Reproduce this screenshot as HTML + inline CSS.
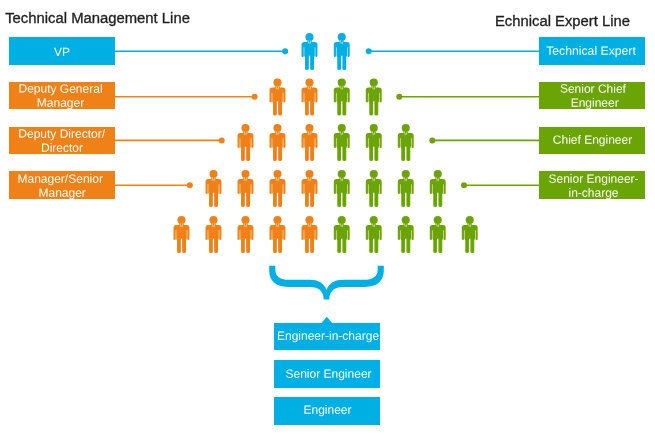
<!DOCTYPE html>
<html><head><meta charset="utf-8"><title>Career Lines</title>
<style>
html,body{margin:0;padding:0;background:#fff}
body{width:655px;height:435px;position:relative;overflow:hidden;will-change:transform;font-family:"Liberation Sans",sans-serif}
.t{position:absolute;-webkit-text-stroke:0.3px #222;transform-origin:0 0;font-size:14px;color:#1c1c1c;white-space:nowrap;line-height:16px}
.b{position:absolute;color:#fff;font-size:12px;line-height:14px;text-align:center;display:flex;align-items:center;justify-content:center;white-space:nowrap}
.b span{position:relative;display:block}
svg{position:absolute;left:0;top:0}
</style></head><body>
<div class="t" style="left:0;top:0;transform:translate(5.2px,10.2px) scaleX(1.0594)">Technical Management Line</div>
<div class="t" style="left:0;top:0;transform:translate(495px,13.3px) scaleX(1.057)">Echnical Expert Line</div>
<svg width="655" height="435" viewBox="0 0 655 435">
<defs><g id="p"><circle cx="0" cy="-14.45" r="4.05"/><rect x="-2.3" y="-11.5" width="4.6" height="3"/><path d="M-7.95 -6.8999999999999995 q0 -2.7 2.7 -2.7 H5.25 q2.7 0 2.7 2.7 V4.5249999999999995 q0 1.075 -1.075 1.075 q-1.075 0 -1.075 -1.075 V-4.3 H5.250000000000001 V4.2 L4.5 5.800000000000001 V17.0 q0 1.6 -1.925 1.6 q-1.925 0 -1.925 -1.6 V4.3 H-0.65 V17.0 q0 1.6 -1.925 1.6 q-1.925 0 -1.925 -1.6 V5.800000000000001 L-5.250000000000001 4.2 V-4.3 H-5.800000000000001 V4.5249999999999995 q0 1.075 -1.075 1.075 q-1.075 0 -1.075 -1.075 Z"/><path d="M-1.45 -11.2 L-0.5 -7.6 M1.45 -11.2 L0.5 -7.6" stroke="#fff" stroke-width="0.7" fill="none" stroke-opacity="0.8"/></g></defs>
<use href="#p" x="309.5" y="51.5" fill="#00b0e4"/>
<use href="#p" x="341.75" y="51.5" fill="#00b0e4"/>
<use href="#p" x="277.5" y="97" fill="#f08116"/>
<use href="#p" x="309.5" y="97" fill="#f08116"/>
<use href="#p" x="341.75" y="97" fill="#6aa505"/>
<use href="#p" x="373.75" y="97" fill="#6aa505"/>
<use href="#p" x="245.5" y="142.5" fill="#f08116"/>
<use href="#p" x="277.5" y="142.5" fill="#f08116"/>
<use href="#p" x="309.5" y="142.5" fill="#f08116"/>
<use href="#p" x="341.75" y="142.5" fill="#6aa505"/>
<use href="#p" x="373.75" y="142.5" fill="#6aa505"/>
<use href="#p" x="405.75" y="142.5" fill="#6aa505"/>
<use href="#p" x="213.5" y="188.5" fill="#f08116"/>
<use href="#p" x="245.5" y="188.5" fill="#f08116"/>
<use href="#p" x="277.5" y="188.5" fill="#f08116"/>
<use href="#p" x="309.5" y="188.5" fill="#f08116"/>
<use href="#p" x="341.75" y="188.5" fill="#6aa505"/>
<use href="#p" x="373.75" y="188.5" fill="#6aa505"/>
<use href="#p" x="405.75" y="188.5" fill="#6aa505"/>
<use href="#p" x="437.75" y="188.5" fill="#6aa505"/>
<use href="#p" x="181.5" y="234.5" fill="#f08116"/>
<use href="#p" x="213.5" y="234.5" fill="#f08116"/>
<use href="#p" x="245.5" y="234.5" fill="#f08116"/>
<use href="#p" x="277.5" y="234.5" fill="#f08116"/>
<use href="#p" x="309.5" y="234.5" fill="#f08116"/>
<use href="#p" x="341.75" y="234.5" fill="#6aa505"/>
<use href="#p" x="373.75" y="234.5" fill="#6aa505"/>
<use href="#p" x="405.75" y="234.5" fill="#6aa505"/>
<use href="#p" x="437.75" y="234.5" fill="#6aa505"/>
<use href="#p" x="469.75" y="234.5" fill="#6aa505"/>
<line x1="115" y1="51.2" x2="285.1" y2="51.2" stroke="#00b0e4" stroke-width="1.6"/>
<circle cx="285.1" cy="51.2" r="3" fill="#00b0e4"/>
<line x1="115" y1="96.8" x2="254.6" y2="96.8" stroke="#f08116" stroke-width="1.6"/>
<circle cx="254.6" cy="96.8" r="3" fill="#f08116"/>
<line x1="115" y1="140.4" x2="221.7" y2="140.4" stroke="#f08116" stroke-width="1.6"/>
<circle cx="221.7" cy="140.4" r="3" fill="#f08116"/>
<line x1="115" y1="185.3" x2="189.8" y2="185.3" stroke="#f08116" stroke-width="1.6"/>
<circle cx="189.8" cy="185.3" r="3" fill="#f08116"/>
<line x1="368.7" y1="51.2" x2="539" y2="51.2" stroke="#00b0e4" stroke-width="1.6"/>
<circle cx="368.7" cy="51.2" r="3" fill="#00b0e4"/>
<line x1="399.3" y1="96.8" x2="539" y2="96.8" stroke="#6aa505" stroke-width="1.6"/>
<circle cx="399.3" cy="96.8" r="3" fill="#6aa505"/>
<line x1="432.3" y1="140.4" x2="539" y2="140.4" stroke="#6aa505" stroke-width="1.6"/>
<circle cx="432.3" cy="140.4" r="3" fill="#6aa505"/>
<line x1="464" y1="185.3" x2="539" y2="185.3" stroke="#6aa505" stroke-width="1.6"/>
<circle cx="464" cy="185.3" r="3" fill="#6aa505"/>
<path d="M269.2 265.7 V270.5 C269.2 281 276 286.9 288 286.9 H310 C318.5 286.9 323.7 291 323.7 299.5 H329.3 C329.3 291 334.5 286.9 343.0 286.9 H365.0 C377.0 286.9 383.8 281 383.8 270.5 V265.7 H377.7 V269.5 C377.7 276.5 373.0 279.8 363.5 279.8 H343.5 C334.5 279.8 329.0 283 326.5 290 C324 283 318.5 279.8 309.5 279.8 H289.5 C280 279.8 275.3 276.5 275.3 269.5 V265.7 Z" fill="#00b0e4"/>
<path d="M321.4 323 L326.8 316.8 L332.2 323 Z" fill="#00b0e4"/>
</svg>
<div class="b" style="left:9px;top:37px;width:106px;height:27.7px;background:#00b0e4"><div style="transform:translateY(0.96px) rotate(0.1deg)"><span style="transform:translateX(0px)">VP</span></div></div>
<div class="b" style="left:9px;top:81.8px;width:106px;height:27.5px;background:#f08116"><div style="transform:translateY(-0.34px) rotate(0.1deg)"><span style="transform:translateX(-1.5px)">Deputy General</span><span style="transform:translateX(-1.5px)">Manager</span></div></div>
<div class="b" style="left:9px;top:126.5px;width:106px;height:27.3px;background:#f08116"><div style="transform:translateY(0.7px) rotate(0.1deg)"><span style="transform:translateX(-0.7px)">Deputy Director/</span><span style="transform:translateX(-0.3px)">Director</span></div></div>
<div class="b" style="left:9px;top:171.2px;width:106px;height:27.5px;background:#f08116"><div style="transform:translateY(0.74px) rotate(0.1deg)"><span style="transform:translateX(-1.5px)">Manager/Senior</span><span style="transform:translateX(0.5px)">Manager</span></div></div>
<div class="b" style="left:539px;top:37px;width:106px;height:27.7px;background:#00b0e4"><div style="transform:translateY(-0.26px) rotate(0.1deg)"><span style="transform:translateX(-1px) scaleX(1.018)">Technical Expert</span></div></div>
<div class="b" style="left:539px;top:81.8px;width:106px;height:27.5px;background:#6aa505"><div style="transform:translateY(-0.33px) rotate(0.1deg)"><span style="transform:translateX(0.9px)">Senior Chief</span><span style="transform:translateX(2.7px)">Engineer</span></div></div>
<div class="b" style="left:539px;top:126.5px;width:106px;height:27.3px;background:#6aa505"><div style="transform:translateY(-0.25px) rotate(0.1deg)"><span style="transform:translateX(0.8px)">Chief Engineer</span></div></div>
<div class="b" style="left:539px;top:171.2px;width:106px;height:27.5px;background:#6aa505"><div style="transform:translateY(0.78px) rotate(0.1deg)"><span style="transform:translateX(1.5px)">Senior Engineer-</span><span style="transform:translateX(1.5px)">in-charge</span></div></div>
<div class="b" style="left:273.8px;top:322.6px;width:106.3px;height:27.4px;background:#00b0e4"><div style="transform:translateY(-0.25px) rotate(0.1deg)"><span style="transform:translateX(1.0px)">Engineer-in-charge</span></div></div>
<div class="b" style="left:273.8px;top:359.9px;width:106.3px;height:27.7px;background:#00b0e4"><div style="transform:translateY(-0.3px) rotate(0.1deg)"><span style="transform:translateX(1.5px)">Senior Engineer</span></div></div>
<div class="b" style="left:273.8px;top:397.1px;width:106.3px;height:27.7px;background:#00b0e4"><div style="transform:translateY(-1.3px) rotate(0.1deg)"><span style="transform:translateX(0.5px)">Engineer</span></div></div>
</body></html>
